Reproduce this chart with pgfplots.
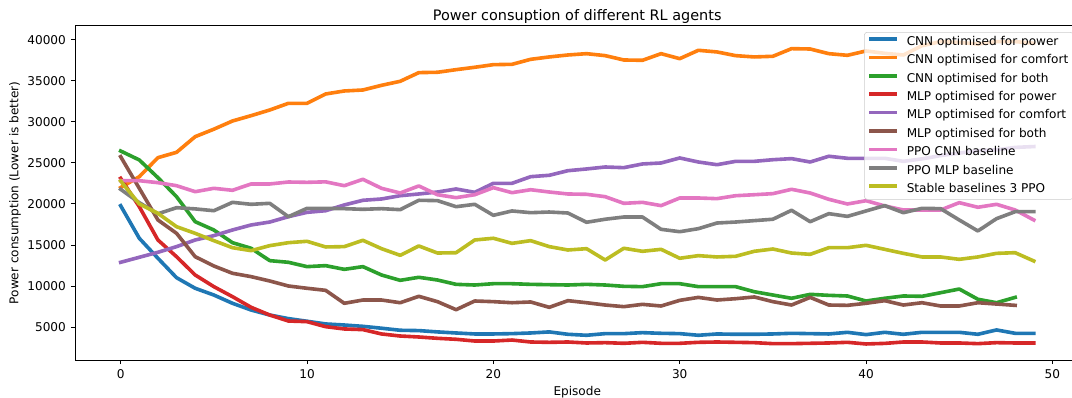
\documentclass[border=0pt]{standalone}
\usepackage{fontspec}
\setmainfont{DejaVu Sans}
\usepackage{pgfplots}
\pgfplotsset{compat=1.18}
\definecolor{c0}{HTML}{1F77B4}
\definecolor{c1}{HTML}{FF7F0E}
\definecolor{c2}{HTML}{2CA02C}
\definecolor{c3}{HTML}{D62728}
\definecolor{c4}{HTML}{9467BD}
\definecolor{c5}{HTML}{8C564B}
\definecolor{c6}{HTML}{E377C2}
\definecolor{c7}{HTML}{7F7F7F}
\definecolor{c8}{HTML}{BCBD22}
\begin{document}
\begin{tikzpicture}
\begin{axis}[
  at={(0,0)}, anchor=south west,
  scale only axis, width=723.2pt, height=240.5pt,
  xmin=-2.45, xmax=51.45, ymin=975, ymax=41707,
  xtick={0,10,20,30,40,50},
  ytick={5000,10000,15000,20000,25000,30000,35000,40000},
  xtick pos=left, ytick pos=left,
  tick align=outside, major tick length=3.05pt,
  tick style={black, line width=0.7pt},
  axis line style={black, line width=0.7pt},
  every tick label/.append style={font=\fontsize{8.7}{10.4}\selectfont, text=black},
  /pgf/number format/assume math mode=true,
  /pgf/number format/set thousands separator={},
  scaled y ticks=false,
  every axis title shift=0pt,
  title={Power consuption of different RL agents},
  title style={font=\fontsize{10.4}{12.5}\selectfont, at={(axis description cs:0.5,1)}, anchor=base, yshift=4.1pt},
  xlabel={Episode},
  xlabel style={font=\fontsize{8.7}{10.4}\selectfont, at={(axis description cs:0.5,-0.1069)}, anchor=base},
  ylabel={Power consumption (Lower is better)},
  ylabel style={font=\fontsize{8.7}{10.4}\selectfont, at={(axis description cs:-0.0597,0.5)}, anchor=center},
  legend style={at={(axis description cs:1,1)}, anchor=north east, xshift=-4.35pt, yshift=-4.35pt,
    fill=white, fill opacity=0.8, text opacity=1, draw=black!20, rounded corners=2pt,
    font=\fontsize{8.7}{10.4}\selectfont, inner xsep=3.5pt, inner ysep=2.8pt,
    column sep=7pt, row sep=4.55pt,
    nodes={inner xsep=0pt, inner ysep=0pt, text height=6.6pt, text depth=2.1pt}},
  legend cell align=left,
  legend image code/.code={\draw[#1] (1.3pt,2.3pt) -- (18.7pt,2.3pt);},
  every axis plot/.append style={line width=2.6pt, line join=round, line cap=rect},
]
\addplot[c0] coordinates {(0,19790)(1,15820)(2,13380)(3,11010)(4,9720)(5,8900)(6,7890)(7,7070)(8,6460)(9,6020)(10,5700)(11,5370)(12,5240)(13,5080)(14,4850)(15,4600)(16,4560)(17,4400)(18,4270)(19,4150)(20,4150)(21,4190)(22,4270)(23,4400)(24,4110)(25,3990)(26,4190)(27,4190)(28,4310)(29,4230)(30,4190)(31,3990)(32,4150)(33,4110)(34,4110)(35,4150)(36,4230)(37,4190)(38,4150)(39,4350)(40,4070)(41,4350)(42,4110)(43,4350)(44,4350)(45,4350)(46,4110)(47,4640)(48,4230)(49,4230)};
\addlegendentry{CNN optimised for power}
\addplot[c1] coordinates {(0,22000)(1,23330)(2,25650)(3,26300)(4,28210)(5,29120)(6,30120)(7,30770)(8,31460)(9,32275)(10,32275)(11,33415)(12,33780)(13,33900)(14,34470)(15,34960)(16,36020)(17,36060)(18,36380)(19,36670)(20,36990)(21,37030)(22,37640)(23,37930)(24,38170)(25,38330)(26,38090)(27,37560)(28,37520)(29,38330)(30,37720)(31,38740)(32,38540)(33,38090)(34,37930)(35,38010)(36,38940)(37,38900)(38,38330)(39,38130)(40,38660)(41,38370)(42,38170)(43,39300)(44,39800)(45,39700)(46,39500)(47,39800)(48,39800)(49,39600)};
\addlegendentry{CNN optimised for comfort}
\addplot[c2] coordinates {(0,26460)(1,25370)(2,23210)(3,20890)(4,17840)(5,16830)(6,15280)(7,14600)(8,13090)(9,12890)(10,12360)(11,12480)(12,12030)(13,12360)(14,11340)(15,10690)(16,11060)(17,10730)(18,10200)(19,10120)(20,10280)(21,10280)(22,10200)(23,10160)(24,10120)(25,10200)(26,10120)(27,9960)(28,9920)(29,10280)(30,10280)(31,9920)(32,9920)(33,9920)(34,9300)(35,8900)(36,8500)(37,8980)(38,8860)(39,8780)(40,8170)(41,8500)(42,8780)(43,8740)(44,9180)(45,9630)(46,8380)(47,7960)(48,8610)};
\addlegendentry{CNN optimised for both}
\addplot[c3] coordinates {(0,23130)(1,19670)(2,15610)(3,13570)(4,11340)(5,9920)(6,8700)(7,7400)(8,6460)(9,5730)(10,5650)(11,5040)(12,4760)(13,4680)(14,4150)(15,3900)(16,3780)(17,3620)(18,3500)(19,3290)(20,3290)(21,3410)(22,3170)(23,3130)(24,3170)(25,3050)(26,3090)(27,3010)(28,3130)(29,3010)(30,3010)(31,3130)(32,3170)(33,3130)(34,3090)(35,2970)(36,2970)(37,3010)(38,3050)(39,3130)(40,2930)(41,3000)(42,3170)(43,3170)(44,3050)(45,3050)(46,2970)(47,3090)(48,3050)(49,3050)};
\addlegendentry{MLP optimised for power}
\addplot[c4] coordinates {(0,12890)(1,13500)(2,14110)(3,14800)(4,15610)(5,16140)(6,16830)(7,17440)(8,17800)(9,18450)(10,18980)(11,19180)(12,19880)(13,20450)(14,20610)(15,21010)(16,21220)(17,21460)(18,21830)(19,21420)(20,22520)(21,22520)(22,23330)(23,23500)(24,24060)(25,24270)(26,24510)(27,24430)(28,24880)(29,25000)(30,25610)(31,25120)(32,24790)(33,25200)(34,25200)(35,25400)(36,25530)(37,25120)(38,25820)(39,25570)(40,25570)(41,25570)(42,25200)(43,25500)(44,25900)(45,26200)(46,26500)(47,26600)(48,26900)(49,27000)};
\addlegendentry{MLP optimised for comfort}
\addplot[c5] coordinates {(0,25770)(1,21910)(2,18050)(3,16420)(4,13570)(5,12440)(6,11550)(7,11140)(8,10610)(9,10000)(10,9720)(11,9470)(12,7890)(13,8290)(14,8290)(15,7960)(16,8740)(17,8090)(18,7110)(19,8170)(20,8090)(21,7960)(22,8050)(23,7400)(24,8210)(25,7960)(26,7680)(27,7480)(28,7760)(29,7560)(30,8250)(31,8610)(32,8290)(33,8450)(34,8660)(35,8090)(36,7680)(37,8610)(38,7680)(39,7640)(40,7890)(41,8210)(42,7680)(43,7960)(44,7560)(45,7560)(46,7960)(47,7800)(48,7640)};
\addlegendentry{MLP optimised for both}
\addplot[c6] coordinates {(0,22840)(1,22840)(2,22600)(3,22230)(4,21500)(5,21910)(6,21670)(7,22440)(8,22440)(9,22680)(10,22640)(11,22700)(12,22230)(13,23010)(14,21910)(15,21340)(16,22200)(17,21130)(18,20770)(19,21130)(20,21990)(21,21380)(22,21740)(23,21460)(24,21220)(25,21180)(26,20890)(27,20080)(28,20200)(29,19800)(30,20730)(31,20730)(32,20650)(33,21010)(34,21130)(35,21260)(36,21790)(37,21340)(38,20570)(39,20000)(40,20400)(41,19760)(42,19270)(43,19270)(44,19270)(45,20160)(46,19600)(47,19960)(48,19270)(49,18050)};
\addlegendentry{PPO CNN baseline}
\addplot[c7] coordinates {(0,21790)(1,20160)(2,18800)(3,19550)(4,19400)(5,19180)(6,20200)(7,19960)(8,20080)(9,18450)(10,19470)(11,19470)(12,19430)(13,19350)(14,19430)(15,19310)(16,20450)(17,20410)(18,19670)(19,19960)(20,18620)(21,19150)(22,18940)(23,19020)(24,18900)(25,17770)(26,18140)(27,18410)(28,18410)(29,16910)(30,16620)(31,16990)(32,17680)(33,17800)(34,17970)(35,18140)(36,19230)(37,17840)(38,18820)(39,18490)(40,19150)(41,19800)(42,18940)(43,19470)(44,19430)(45,18050)(46,16710)(47,18210)(48,19060)(49,19060)};
\addlegendentry{PPO MLP baseline}
\addplot[c8] coordinates {(0,22800)(1,20000)(2,18860)(3,17230)(4,16420)(5,15530)(6,14670)(7,14310)(8,14920)(9,15280)(10,15450)(11,14760)(12,14800)(13,15570)(14,14550)(15,13740)(16,14880)(17,14020)(18,14060)(19,15610)(20,15820)(21,15200)(22,15530)(23,14800)(24,14390)(25,14550)(26,13170)(27,14600)(28,14230)(29,14470)(30,13380)(31,13700)(32,13540)(33,13620)(34,14230)(35,14510)(36,14020)(37,13860)(38,14670)(39,14670)(40,14960)(41,14470)(42,13980)(43,13540)(44,13540)(45,13250)(46,13540)(47,13980)(48,14060)(49,13050)};
\addlegendentry{Stable baselines 3 PPO}
\end{axis}
\pgfresetboundingbox
\useasboundingbox (-54pt,-27.36pt) rectangle (717.84pt,259.2pt);
\end{tikzpicture}
\end{document}
